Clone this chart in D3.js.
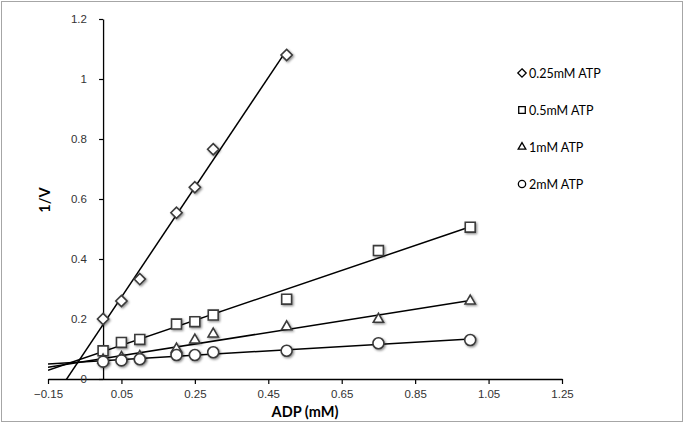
<!DOCTYPE html>
<html><head><meta charset="utf-8">
<script src="https://cdn.jsdelivr.net/npm/d3@7"></script>
<style>
html,body{margin:0;padding:0;background:#fff;}
svg{display:block;font-family:Lato,"Open Sans",sans-serif;}
</style></head>
<body><svg id="c" width="685" height="426"></svg>
<script>
const adp = [0, 0.05, 0.1, 0.2, 0.25, 0.3, 0.5, 0.75, 1.0];
const seriesNames = ["0.25mM ATP", "0.5mM ATP", "1mM ATP", "2mM ATP"];
const atp025 = [0.200, 0.260, 0.333, 0.554, 0.639, 0.766, 1.080];
const atp05  = [0.094, 0.122, 0.132, 0.183, 0.191, 0.213, 0.266, 0.428, 0.506];
const atp1   = [0.063, 0.072, 0.075, 0.100, 0.130, 0.150, 0.174, 0.199, 0.260];
const atp2   = [0.058, 0.062, 0.066, 0.080, 0.080, 0.089, 0.094, 0.119, 0.130];
const xTicks = [-0.15, 0.05, 0.25, 0.45, 0.65, 0.85, 1.05, 1.25];
const yTicks = [0, 0.2, 0.4, 0.6, 0.8, 1, 1.2];
const symbolTypes = [d3.symbolDiamond2, d3.symbolSquare2, d3.symbolTriangle2, d3.symbolCircle];

const svg = d3.select("#c");
const defs = svg.append("defs");
const f = defs.append("filter").attr("id","sh").attr("x","-50%").attr("y","-50%").attr("width","200%").attr("height","200%");
f.append("feDropShadow").attr("dx",1.2).attr("dy",1.2).attr("stdDeviation",1).attr("flood-color","#000").attr("flood-opacity",0.45);

// outer border
svg.append("rect").attr("x",1.5).attr("y",1.5).attr("width",681).attr("height",420)
  .attr("fill","#fff").attr("stroke","#a6a6a6").attr("stroke-width",1);

const x = d3.scaleLinear().domain([-0.15, 1.25]).range([48, 562]);
const y = d3.scaleLinear().domain([0, 1.2]).range([379, 19]);

// x axis
const xAxis = d3.axisBottom(x).tickValues(xTicks).tickSize(5).tickSizeOuter(0)
  .tickFormat(d => d3.format("")(+d.toFixed(2)));
const gx = svg.append("g").attr("transform",`translate(0,${y(0)})`).call(xAxis);
gx.select(".domain").attr("stroke","#000").attr("stroke-width",1.3);
gx.selectAll(".tick line").attr("stroke","#000").attr("stroke-width",1.2);
gx.selectAll(".tick text").attr("fill","#333").attr("font-size",11.5).attr("dy","0.95em");

// y axis at x=0
const yAxis = d3.axisLeft(y).tickValues(yTicks).tickSize(4).tickSizeOuter(0)
  .tickFormat(d => String(+d.toFixed(1)));
const gy = svg.append("g").attr("transform",`translate(${x(0)},0)`).call(yAxis);
gy.select(".domain").attr("stroke","#000").attr("stroke-width",1.3);
gy.selectAll(".tick line").attr("stroke","#000").attr("stroke-width",1.2);
gy.selectAll(".tick text").attr("fill","#333").attr("font-size",11.5).attr("dx","-0.8em");

// axis titles
svg.append("text").attr("x",305).attr("y",417).attr("text-anchor","middle")
  .attr("font-weight","bold").attr("font-size",14.5).attr("fill","#000").text("ADP (mM)");
svg.append("text").attr("transform","translate(50,200) rotate(-90)").attr("text-anchor","middle")
  .attr("font-weight","bold").attr("font-size",14.5).attr("fill","#000").text("1/V");

const allY = [atp025, atp05, atp1, atp2];

// regression trendlines, backward forecast to x=-0.15, clipped at y=0
svg.append("clipPath").attr("id","plotclip").append("rect")
  .attr("x",x(-0.15)).attr("y",y(1.2)).attr("width",x(1.25)-x(-0.15)).attr("height",y(0)-y(1.2));
const lineG = svg.append("g").attr("clip-path","url(#plotclip)");
allY.forEach(ys => {
  const xs = adp.slice(0, ys.length);
  const mx = d3.mean(xs), my = d3.mean(ys);
  let sxy = 0, sxx = 0;
  xs.forEach((xv,i) => { sxy += (xv-mx)*(ys[i]-my); sxx += (xv-mx)*(xv-mx); });
  const m = sxy/sxx, b = my - m*mx;
  const x0 = -0.15, x1 = d3.max(xs);
  lineG.append("line").attr("x1",x(x0)).attr("y1",y(m*x0+b)).attr("x2",x(x1)).attr("y2",y(m*x1+b))
    .attr("stroke","#000").attr("stroke-width",1.5);
});

// markers
const sizes = [80, 125, 75, 95];
allY.forEach((ys, s) => {
  const sym = d3.symbol().type(symbolTypes[s]).size(sizes[s]);
  svg.append("g").attr("filter","url(#sh)").selectAll("path").data(ys).join("path")
    .attr("transform",(d,i)=>`translate(${x(adp[i])},${y(d)})`)
    .attr("d", sym).attr("fill","#fff").attr("stroke","#3a3a3a").attr("stroke-width",1.6);
});

// legend
const legY = [73, 110, 147, 184];
seriesNames.forEach((name, s) => {
  const lsize = [45, 55, 42, 42][s];
  svg.append("path").attr("transform",`translate(522,${legY[s]})`)
    .attr("d", d3.symbol().type(symbolTypes[s]).size(lsize)).attr("fill","#fff")
    .attr("stroke","#000").attr("stroke-width",1.3);
  svg.append("text").attr("x",529).attr("y",legY[s]).attr("dy","0.36em")
    .attr("font-size",12.5).attr("fill","#000").text(name);
});
</script></body></html>
